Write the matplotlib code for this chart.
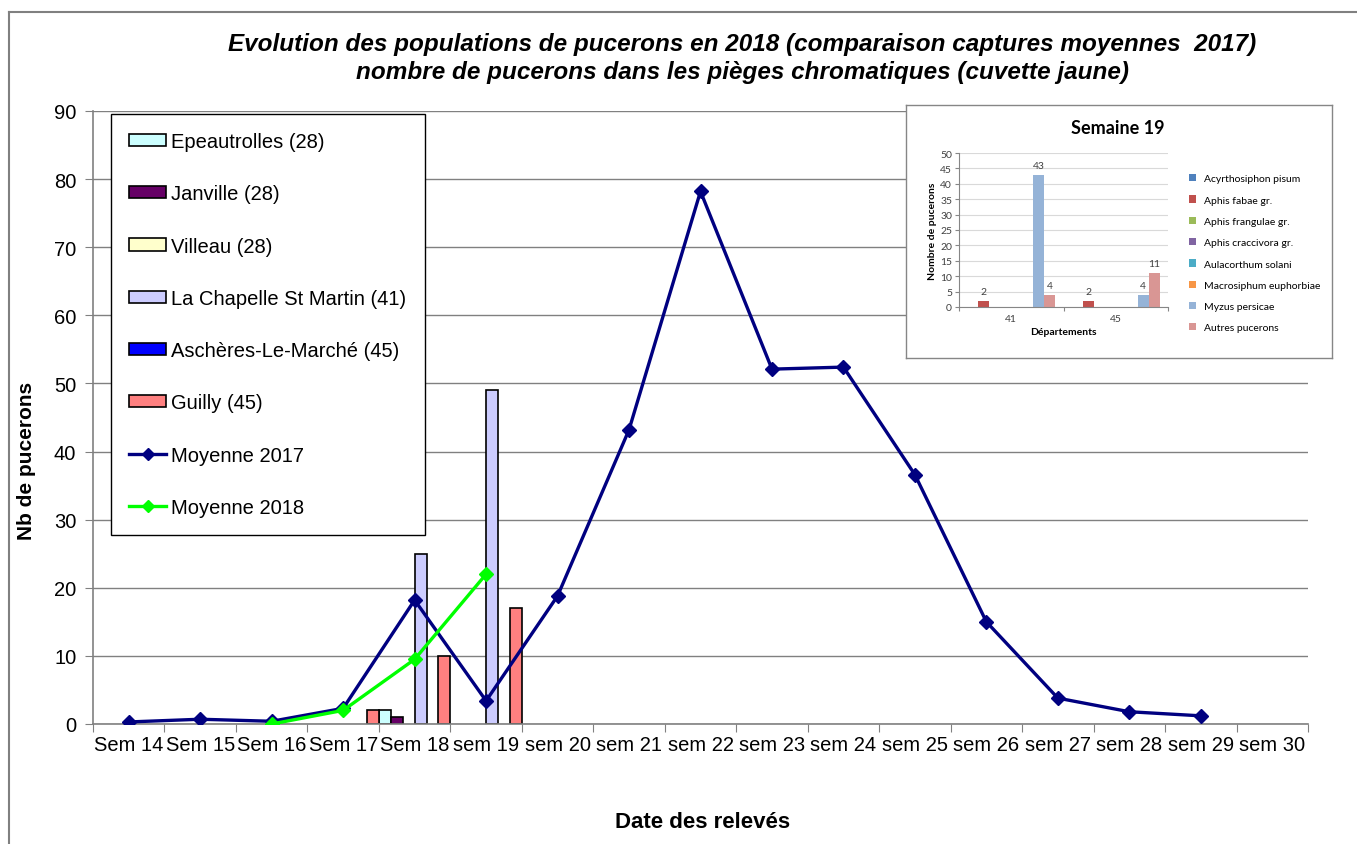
import matplotlib.pyplot as plt
from matplotlib.patches import Patch
from matplotlib.lines import Line2D
import numpy as np

plt.rcParams['font.family'] = ['Liberation Sans', 'DejaVu Sans']

W, H = 1357, 845

# semaines (catégories)
semaines = ["Sem 14", "Sem 15", "Sem 16", "Sem 17", "Sem 18", "sem 19", "sem 20",
            "sem 21", "sem 22", "sem 23", "sem 24", "sem 25", "sem 26", "sem 27",
            "sem 28", "sem 29", "sem 30"]
nan = np.nan

# captures par site (une valeur par semaine, nan = pas de relevé)
sites = ["Epeautrolles (28)", "Janville (28)", "Villeau (28)",
         "La Chapelle St Martin (41)", "Aschères-Le-Marché (45)", "Guilly (45)"]
couleurs_sites = ["#CCFFFF", "#660066", "#FFFFCC", "#CCCCFF", "#0000FF", "#FF8080"]
epeautrolles = [nan, nan, nan, nan, 2, nan, nan, nan, nan, nan, nan, nan, nan, nan, nan, nan, nan]
janville = [nan, nan, nan, nan, 1, nan, nan, nan, nan, nan, nan, nan, nan, nan, nan, nan, nan]
villeau = [nan] * 17
la_chapelle = [nan, nan, nan, nan, 25, 49, nan, nan, nan, nan, nan, nan, nan, nan, nan, nan, nan]
ascheres = [nan] * 17
guilly = [nan, nan, nan, 2, 10, 17, nan, nan, nan, nan, nan, nan, nan, nan, nan, nan, nan]
captures = [epeautrolles, janville, villeau, la_chapelle, ascheres, guilly]

moyenne_2017 = [0.3, 0.7, 0.4, 2.3, 18.2, 3.4, 18.8, 43.2, 78.2, 52.1, 52.4, 36.6,
                15.0, 3.8, 1.8, 1.2, nan]
moyenne_2018 = [nan, nan, 0, 2, 9.5, 22, nan, nan, nan, nan, nan, nan, nan, nan, nan, nan, nan]

# encart semaine 19
departements = ["41", "45"]
especes = ["Acyrthosiphon pisum", "Aphis fabae gr.", "Aphis frangulae gr.",
           "Aphis craccivora gr.", "Aulacorthum solani", "Macrosiphum euphorbiae",
           "Myzus persicae", "Autres pucerons"]
couleurs_especes = ["#4F81BD", "#C0504D", "#9BBB59", "#8064A2", "#4BACC6",
                    "#F79646", "#95B3D7", "#D99694"]
valeurs_s19 = [[0, 0], [2, 2], [0, 0], [0, 0], [0, 0], [0, 0], [43, 4], [4, 11]]

fig = plt.figure(figsize=(W / 100, H / 100), dpi=100)

# bordure de la zone graphique
fig.add_artist(Line2D([9 / W, 9 / W], [0, 1 - 13 / H], color="#808080", lw=1.5))
fig.add_artist(Line2D([9 / W, 1], [1 - 13 / H, 1 - 13 / H], color="#808080", lw=1.5))

ax = fig.add_axes([93 / W, 1 - 725 / H, (1308 - 93) / W, (725 - 112) / H])
n = len(semaines)
idx = np.arange(n)
bw = 1 / 6
for i, (vals, c) in enumerate(zip(captures, couleurs_sites)):
    ax.bar(idx + i * bw, vals, width=bw, align="edge", color=c,
           edgecolor="black", linewidth=1.2, zorder=2)
ax.plot(idx + 0.5, moyenne_2017, color="#000080", lw=2.4, marker="D", ms=7, zorder=4)
ax.plot(idx + 0.5, moyenne_2018, color="#00FF00", lw=2.4, marker="D", ms=7, zorder=5)

ax.set_xlim(0, n)
ax.set_ylim(0, 90)
ax.set_yticks(range(0, 91, 10))
ax.set_xticks(range(0, n + 1))
ax.set_xticklabels([])
ax.set_xticks(idx + 0.5, minor=True)
ax.set_xticklabels(semaines, minor=True)
ax.tick_params(axis="x", which="minor", length=0, pad=8, labelsize=14.5)
ax.tick_params(axis="x", which="major", length=6, color="#808080")
ax.tick_params(axis="y", length=6, color="#808080", labelsize=14.5, pad=6)
ax.yaxis.grid(True, color="#808080", lw=1)
ax.set_axisbelow(True)
for s in ["top", "right"]:
    ax.spines[s].set_visible(False)
for s in ["left", "bottom"]:
    ax.spines[s].set_color("#808080")
    ax.spines[s].set_linewidth(1.2)

handles = [Patch(facecolor=c, edgecolor="black", lw=1.2) for c in couleurs_sites]
handles += [Line2D([], [], color="#000080", lw=2.4, marker="D", ms=6),
            Line2D([], [], color="#00FF00", lw=2.4, marker="D", ms=6)]
leg = ax.legend(handles, sites + ["Moyenne 2017", "Moyenne 2018"],
                loc="upper left", bbox_to_anchor=(111 / W, 1 - 115 / H),
                bbox_transform=fig.transFigure, borderaxespad=0, fontsize=14.5,
                labelspacing=1.65, handlelength=1.85, handleheight=0.55,
                handletextpad=0.25, borderpad=0.9, fancybox=False,
                edgecolor="black", framealpha=1)
leg.get_frame().set_linewidth(1)

fig.text(742 / W, 1 - 44 / H,
         "Evolution des populations de pucerons en 2018 (comparaison captures moyennes  2017)",
         ha="center", va="center", fontsize=17.5, fontweight="bold", style="italic")
fig.text(742 / W, 1 - 72 / H,
         "nombre de pucerons dans les pièges chromatiques (cuvette jaune)",
         ha="center", va="center", fontsize=17.5, fontweight="bold", style="italic")
fig.text(27 / W, 1 - 461 / H, "Nb de pucerons", rotation=90, ha="center", va="center",
         fontsize=15, fontweight="bold")
fig.text(703 / W, 1 - 823 / H, "Date des relevés", ha="center", va="center",
         fontsize=16, fontweight="bold")

# encart
box = fig.add_axes([906 / W, 1 - 359 / H, 426 / W, 253 / H])
box.set_xticks([])
box.set_yticks([])
for s in box.spines.values():
    s.set_color("#868686")
    s.set_linewidth(1)

fi = ["Lato", "DejaVu Sans"]
ins = fig.add_axes([959 / W, 1 - 308 / H, (1168 - 959) / W, (308 - 154) / H])
ncat = len(departements)
cidx = np.arange(ncat)
w8 = 1 / 9.5
for i, (vals, c) in enumerate(zip(valeurs_s19, couleurs_especes)):
    xs = cidx + (0.75 + i) * w8
    ins.bar(xs, vals, width=w8, align="edge", color=c, zorder=2)
    for x, v in zip(xs, vals):
        if v:
            ins.text(x + w8 / 2, v + 1.5, str(v), ha="center", va="bottom",
                     fontsize=7.5, color="#404040", family=fi)
ins.set_xlim(0, ncat)
ins.set_ylim(0, 50)
ins.set_yticks(range(0, 51, 5))
ins.set_xticks(range(0, ncat + 1))
ins.set_xticklabels([])
ins.set_xticks(cidx + 0.5, minor=True)
ins.set_xticklabels(departements, minor=True)
ins.tick_params(axis="x", which="minor", length=0, pad=5, labelsize=7.5, labelcolor="#404040")
ins.tick_params(axis="x", which="major", length=3, color="#868686")
ins.tick_params(axis="y", length=3, color="#868686", labelsize=7.5, labelcolor="#404040", pad=2)
for lab in ins.get_xticklabels(minor=True) + ins.get_yticklabels():
    lab.set_family(fi)
ins.yaxis.grid(True, color="#D9D9D9", lw=0.8)
ins.set_axisbelow(True)
for s in ["top", "right"]:
    ins.spines[s].set_visible(False)
for s in ["left", "bottom"]:
    ins.spines[s].set_color("#868686")
    ins.spines[s].set_linewidth(0.8)
ins.set_xlabel("Départements", fontsize=7.5, fontweight="bold", family=fi, labelpad=3)
ins.set_ylabel("Nombre de pucerons", fontsize=7.5, fontweight="bold", family=fi, labelpad=2)
fig.text(1118 / W, 1 - 128 / H, "Semaine 19", ha="center", va="center", fontsize=13,
         fontweight="bold", family=fi)
h8 = [Patch(facecolor=c) for c in couleurs_especes]
ins.legend(h8, especes, loc="upper left", bbox_to_anchor=(1185 / W, 1 - 171 / H),
           bbox_transform=fig.transFigure, frameon=False,
           labelspacing=1.15, handlelength=0.7, handleheight=0.7, handletextpad=0.7,
           borderaxespad=0, prop={"family": fi, "size": 7.5})

fig.savefig("out.png", dpi=100)
